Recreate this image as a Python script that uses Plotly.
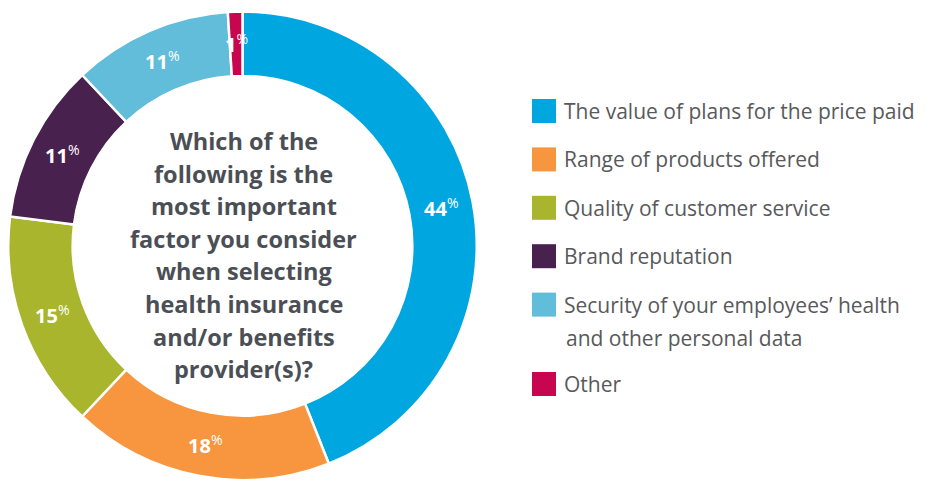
import math
import plotly.graph_objects as go

# Survey answers (percent of respondents)
labels = [
    "The value of plans for the price paid",
    "Range of products offered",
    "Quality of customer service",
    "Brand reputation",
    "Security of your employees’ health|and other personal data",
    "Other",
]
values = [44, 18, 15, 11, 11, 1]
colors = ["#00A6E0", "#F7963E", "#A8B52D", "#48214F", "#62BDDB", "#C7064F"]

question_lines = [
    "Which of the",
    "following is the",
    "most important",
    "factor you consider",
    "when selecting",
    "health insurance",
    "and/or benefits",
    "provider(s)?",
]

W, H = 927, 480
FONT = "Open Sans"
DOM_X = [0.0076, 0.5156]
DOM_Y = [0.0, 0.976]
HOLE = 0.725

fig = go.Figure(
    go.Pie(
        labels=[l.replace("|", " ") for l in labels],
        values=values,
        marker=dict(colors=colors, line=dict(color="white", width=2.5)),
        hole=HOLE,
        sort=False,
        direction="clockwise",
        rotation=0,
        textinfo="none",
        hoverinfo="label+percent",
        showlegend=False,
        domain=dict(x=DOM_X, y=DOM_Y),
    )
)

# pie geometry in pixels (same rule plotly uses for the radius)
cx = W * (DOM_X[0] + DOM_X[1]) / 2
cy = H * (1 - (DOM_Y[0] + DOM_Y[1]) / 2)
R = min(W * (DOM_X[1] - DOM_X[0]), H * (DOM_Y[1] - DOM_Y[0])) / 2
r_mid = R * (1 + HOLE) / 2

annotations = []
shapes = []

# value labels at the middle of each ring segment
total = sum(values)
cum = 0
for v in values:
    theta = 2 * math.pi * (cum + v / 2) / total
    cum += v
    px = cx + r_mid * math.sin(theta)
    py = cy - r_mid * math.cos(theta)
    annotations.append(dict(
        x=px / W, y=1 - py / H, xref="paper", yref="paper",
        text=f"<b>{v}</b><sup>%</sup>", showarrow=False,
        xanchor="center", yanchor="middle",
        font=dict(family=FONT, size=20, color="white"),
    ))

# question in the hole
line_gap = 32.6
top_line = 141
for i, line in enumerate(question_lines):
    annotations.append(dict(
        x=(cx + 1) / W, y=1 - (top_line + i * line_gap) / H,
        xref="paper", yref="paper", text=f"<b>{line}</b>", showarrow=False,
        xanchor="center", yanchor="middle",
        font=dict(family=FONT, size=23.5, color="#4B4F55"),
    ))

# legend
sq_x0, sq = 532, 24
txt_x = 562
row_y = 111
row_gap = 48.4
wrap_gap = 33
extra = 0
for i, (lab, col) in enumerate(zip(labels, colors)):
    yc = row_y + i * row_gap + extra
    shapes.append(dict(
        type="rect", xref="paper", yref="paper",
        x0=sq_x0 / W, x1=(sq_x0 + sq) / W,
        y0=1 - (yc - sq / 2) / H, y1=1 - (yc + sq / 2) / H,
        fillcolor=col, line=dict(width=0),
    ))
    parts = lab.split("|")
    for j, part in enumerate(parts):
        annotations.append(dict(
            x=(txt_x + (2 if j else 0)) / W, y=1 - (yc + j * wrap_gap) / H,
            xref="paper", yref="paper", text=part, showarrow=False,
            xanchor="left", yanchor="middle",
            font=dict(family=FONT, size=21, color="#58595B"),
        ))
    extra += (wrap_gap - 2) * (len(parts) - 1)

fig.update_layout(
    width=W, height=H,
    margin=dict(l=0, r=0, t=0, b=0),
    paper_bgcolor="white", plot_bgcolor="white",
    annotations=annotations, shapes=shapes,
    font=dict(family=FONT),
)

fig.write_html("out.html")
